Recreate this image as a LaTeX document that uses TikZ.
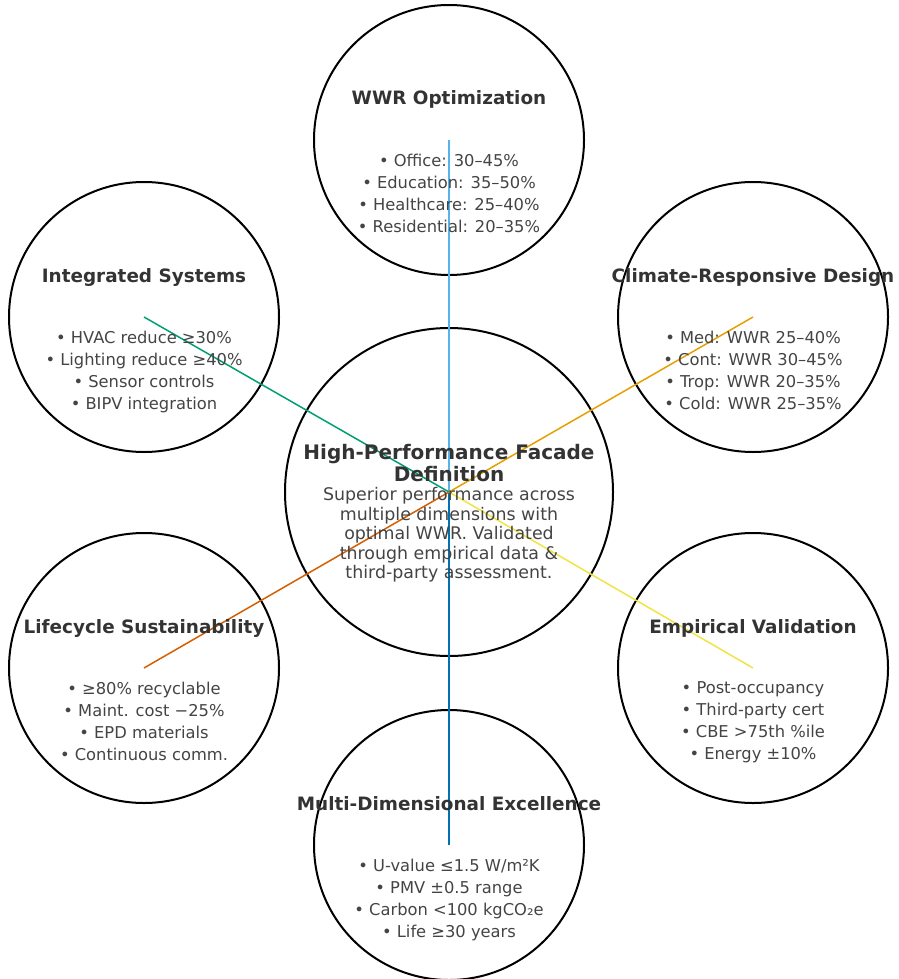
\documentclass[tikz,border=0pt]{standalone}
\usepackage{fontspec}
\setmainfont{DejaVu Sans}
\definecolor{ttlgray}{HTML}{333333}
\definecolor{txtgray}{HTML}{444444}
\definecolor{oiSky}{HTML}{56B4E9}
\definecolor{oiBlue}{HTML}{0072B2}
\definecolor{oiGreen}{HTML}{009E73}
\definecolor{oiOrange}{HTML}{E69F00}
\definecolor{oiVerm}{HTML}{D55E00}
\definecolor{oiYellow}{HTML}{F0E442}
\begin{document}
\begin{tikzpicture}[x=1pt,y=-1pt,
  ring/.style={circle, draw=black, line width=2pt, inner sep=0pt, minimum size=270pt},
  corering/.style={circle, draw=black, line width=2pt, inner sep=0pt, minimum size=328pt},
  link/.style={line width=1.5pt},
  ttl/.style={anchor=base, inner sep=0pt, text=ttlgray, font=\fontsize{18.4}{22}\selectfont\bfseries},
  lst/.style={anchor=north, inner sep=0pt, align=center, text=txtgray, font=\fontsize{16.3}{22}\selectfont},
  coreT/.style={anchor=north, inner sep=0pt, align=center, text=ttlgray, font=\fontsize{20}{22}\selectfont\bfseries},
  coreB/.style={anchor=north, inner sep=0pt, align=center, text=txtgray, font=\fontsize{17.4}{19.5}\selectfont}
]
\useasboundingbox (0,0) rectangle (898,979);

% circles
\node[corering] (core) at (449,492) {};
\node[ring] (wwr) at (449,140) {};
\node[ring] (integ) at (144,317) {};
\node[ring] (clim) at (753,317) {};
\node[ring] (life) at (144,668) {};
\node[ring] (emp) at (753,668) {};
\node[ring] (multi) at (449,845) {};

% connectors
\draw[link, oiSky] (wwr.center) -- (core.center);
\draw[link, oiBlue] (core.center) -- (multi.center);
\draw[link, oiGreen] (integ.center) -- (core.center);
\draw[link, oiOrange] (clim.center) -- (core.center);
\draw[link, oiVerm] (life.center) -- (core.center);
\draw[link, oiYellow] (emp.center) -- (core.center);

% texts
\node[coreT] (coreTitle) at (449,443.8) {High-Performance Facade\\Definition};
\node[coreB] (coreBody) at (449,487.3) {Superior performance across\\multiple dimensions with\\optimal WWR. Validated\\through empirical data \&\\third-party assessment.};

\node[ttl] (wwrT) at (449,105) {WWR Optimization};
\node[lst] (wwrL) at (449,153.6) {• Office: 30–45\%\\• Education: 35–50\%\\• Healthcare: 25–40\%\\• Residential: 20–35\%};

\node[ttl] (integT) at (144,282) {Integrated Systems};
\node[lst] (integL) at (144,330.6) {• HVAC reduce ≥30\%\\• Lighting reduce ≥40\%\\• Sensor controls\\• BIPV integration};

\node[ttl] (climT) at (753,282) {Climate-Responsive Design};
\node[lst] (climL) at (753,330.6) {• Med: WWR 25–40\%\\• Cont: WWR 30–45\%\\• Trop: WWR 20–35\%\\• Cold: WWR 25–35\%};

\node[ttl] (lifeT) at (144,633) {Lifecycle Sustainability};
\node[lst] (lifeL) at (144,681.6) {• ≥80\% recyclable\\• Maint. cost −25\%\\• EPD materials\\• Continuous comm.};

\node[ttl] (empT) at (753,633) {Empirical Validation};
\node[lst] (empL) at (753,681.6) {• Post-occupancy\\• Third-party cert\\• CBE >75th \%ile\\• Energy ±10\%};

\node[ttl] (multiT) at (449,810) {Multi-Dimensional Excellence};
\node[lst] (multiL) at (449,858.6) {• U-value ≤1.5 W/m²K\\• PMV ±0.5 range\\• Carbon <100 kgCO₂e\\• Life ≥30 years};
\end{tikzpicture}
\end{document}
